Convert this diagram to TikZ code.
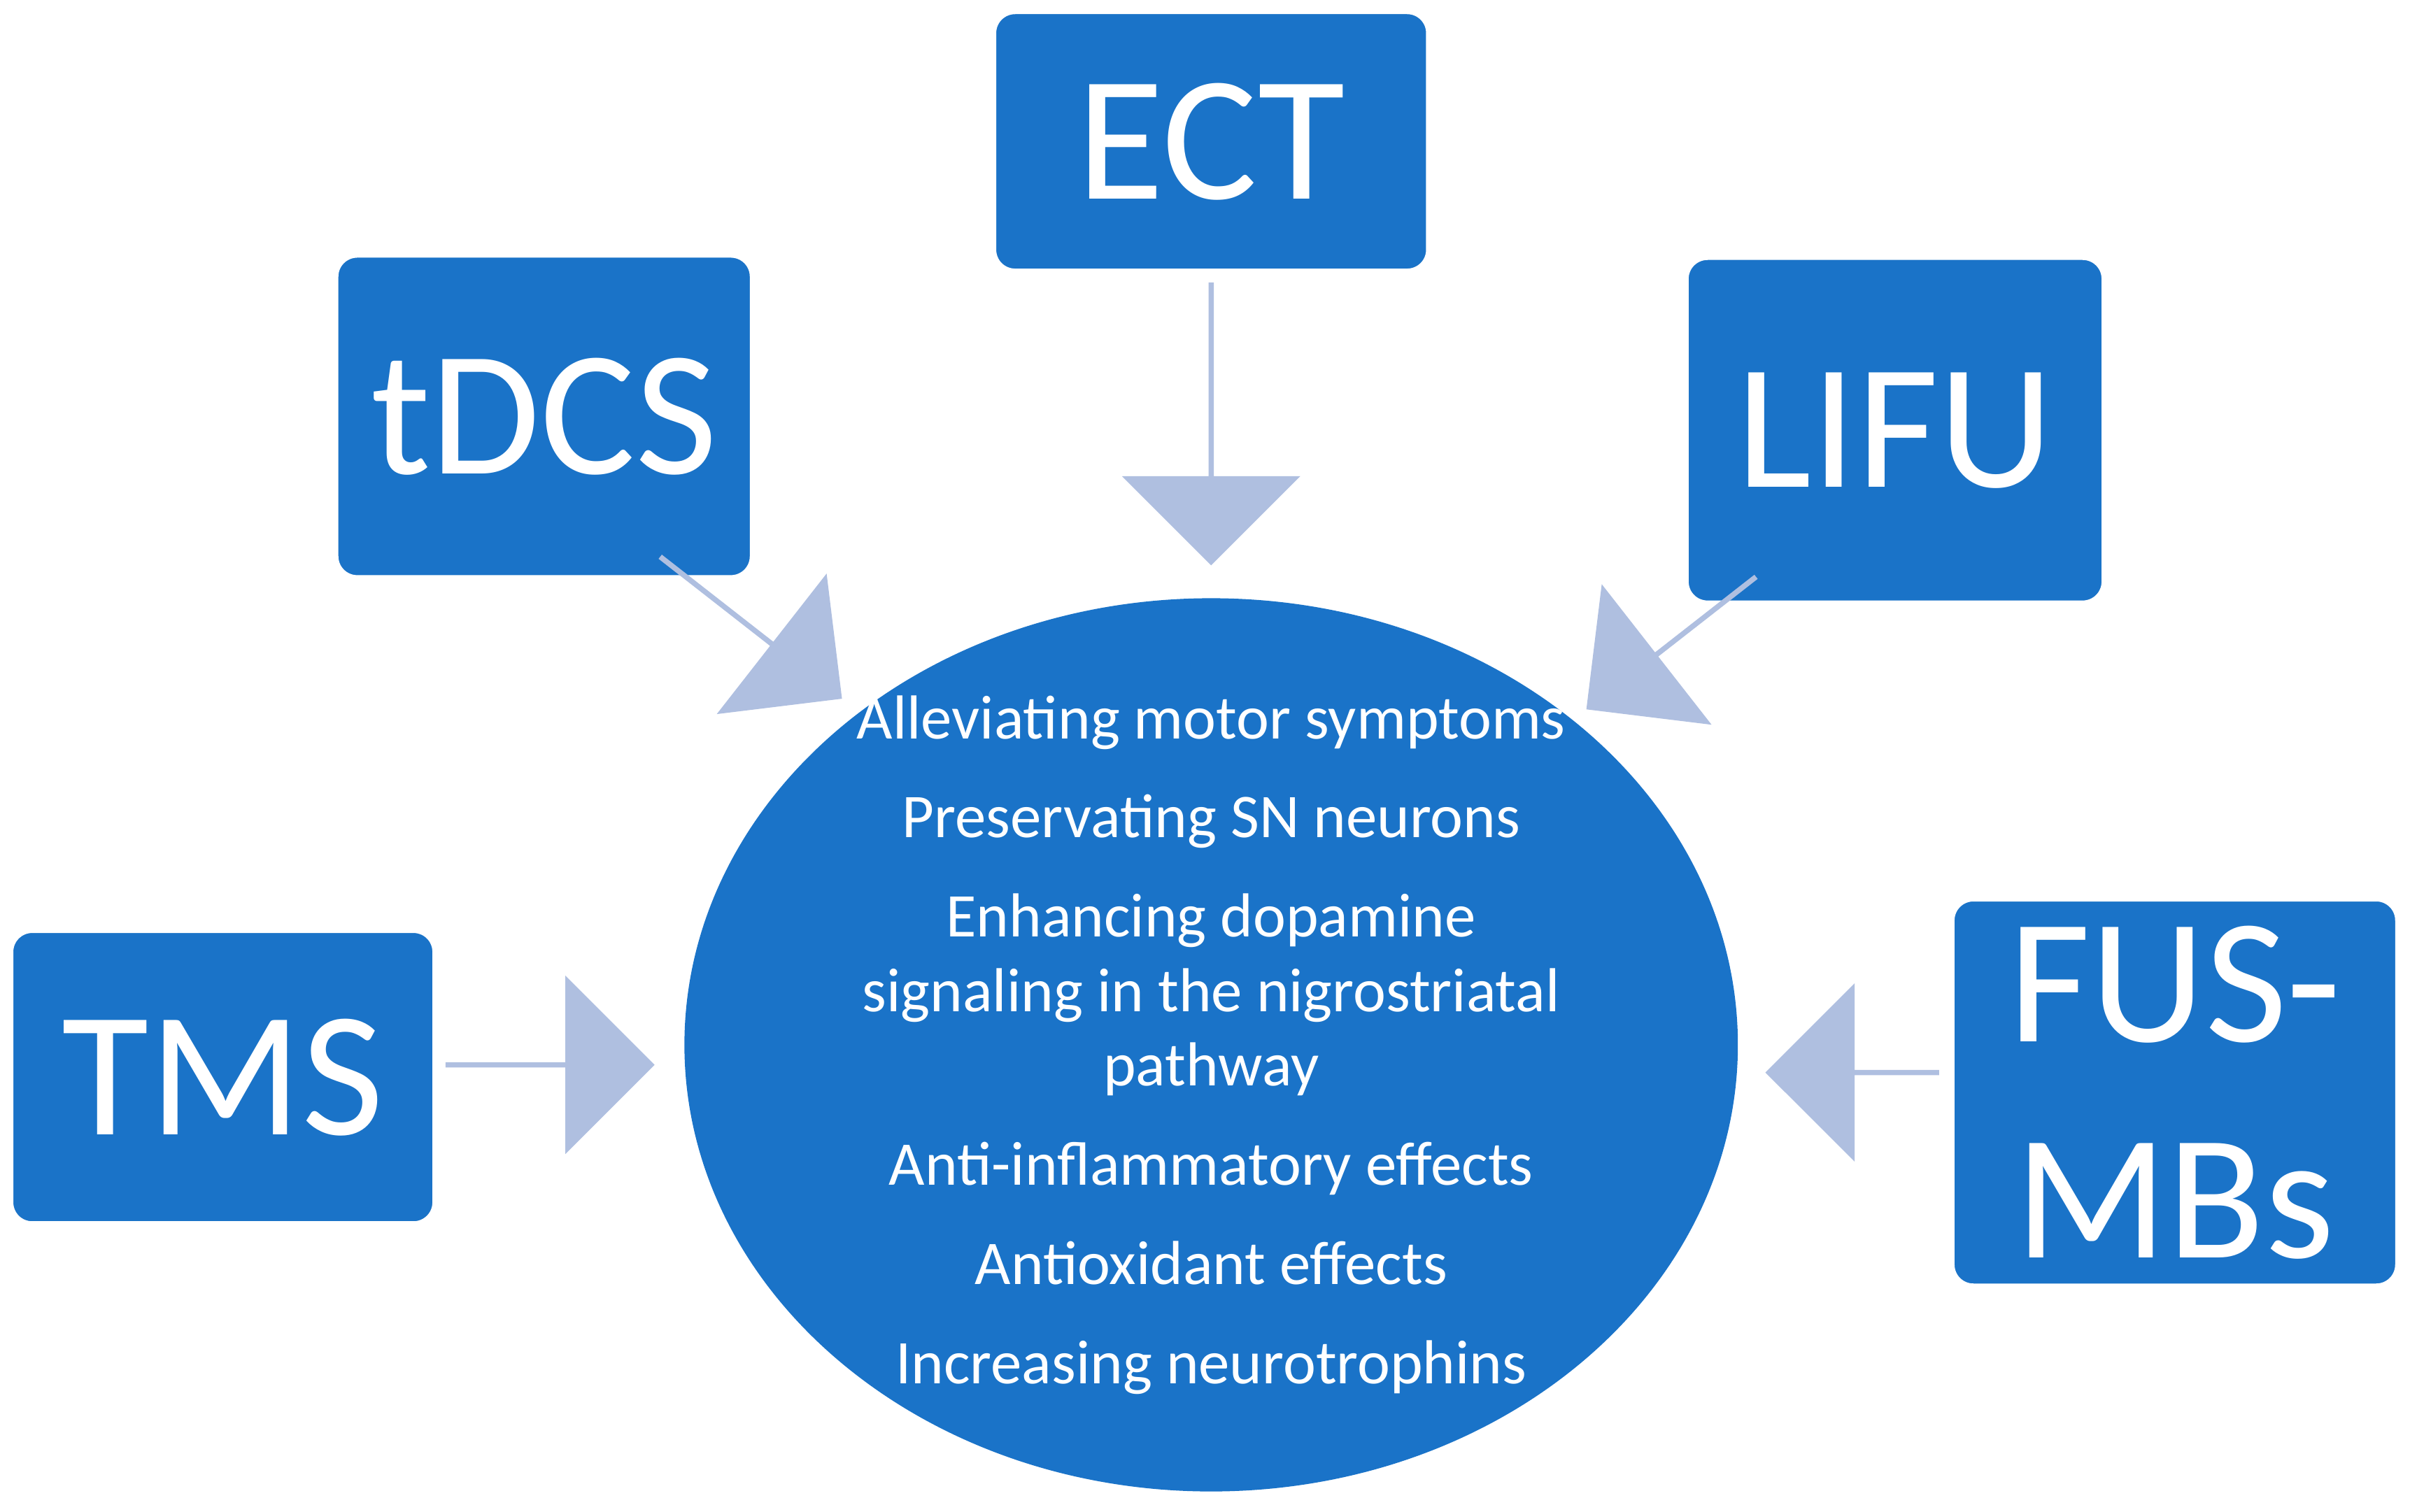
\documentclass[tikz,border=0pt]{standalone}
\usepackage{fontspec}
\setmainfont{Carlito}
\usetikzlibrary{shapes.arrows,shapes.geometric}
\definecolor{boxblue}{HTML}{1A73C8}
\definecolor{arrowblue}{HTML}{AFBFE0}
\begin{document}
\begin{tikzpicture}[x=0.01cm,y=-0.01cm,
  box node/.style={rectangle,rounded corners=0.14cm,draw=white,line width=1pt,fill=boxblue,
    text=white,font=\fontsize{33}{36}\selectfont,align=center,inner sep=0pt},
  big arrow/.style={single arrow,fill=arrowblue,draw=none,minimum width=1.16cm,
    single arrow head extend=0.23cm,inner sep=0pt}]

  \useasboundingbox (0,0) rectangle (1568,984);

  \node[ellipse,fill=boxblue,minimum width=6.85cm,minimum height=5.81cm] (center) at (788,680) {};
  \node[text=white,align=center,font=\fontsize{11.5}{13.8}\selectfont] (effects) at (788,680)
    {Alleviating motor symptoms\\[0.16cm]
     Preservating SN neurons\\[0.16cm]
     Enhancing dopamine\\signaling in the nigrostriatal\\pathway\\[0.16cm]
     Anti-inflammatory effects\\[0.16cm]
     Antioxidant effects\\[0.16cm]
     Increasing neurotrophins};

  \node[box node,minimum width=2.83cm,minimum height=1.69cm] (ect) at (788,92) {ECT};
  \node[box node,minimum width=2.71cm,minimum height=2.10cm] (tdcs) at (354,271) {tDCS};
  \node[box node,minimum width=2.72cm,minimum height=2.25cm] (lifu) at (1233,280) {LIFU};
  \node[box node,minimum width=2.76cm,minimum height=1.91cm] (tms) at (145,701) {TMS};
  \node[box node,minimum width=2.90cm,minimum height=2.52cm,font=\fontsize{33}{40}\selectfont] (fus) at (1415,711) {FUS-\\MBs};

  \node[big arrow,minimum height=1.84cm,rotate=-90] (a1) at (788,275) {};
  \node[big arrow,minimum height=1.36cm] (a2) at (357,693) {};
  \node[big arrow,minimum height=1.13cm,rotate=180] (a3) at (1206,698) {};
  \node[big arrow,minimum height=1.50cm,rotate=-38] (a4) at (488,408) {};
  \node[big arrow,minimum height=1.40cm,rotate=218] (a5) at (1088,418) {};
\end{tikzpicture}
\end{document}
